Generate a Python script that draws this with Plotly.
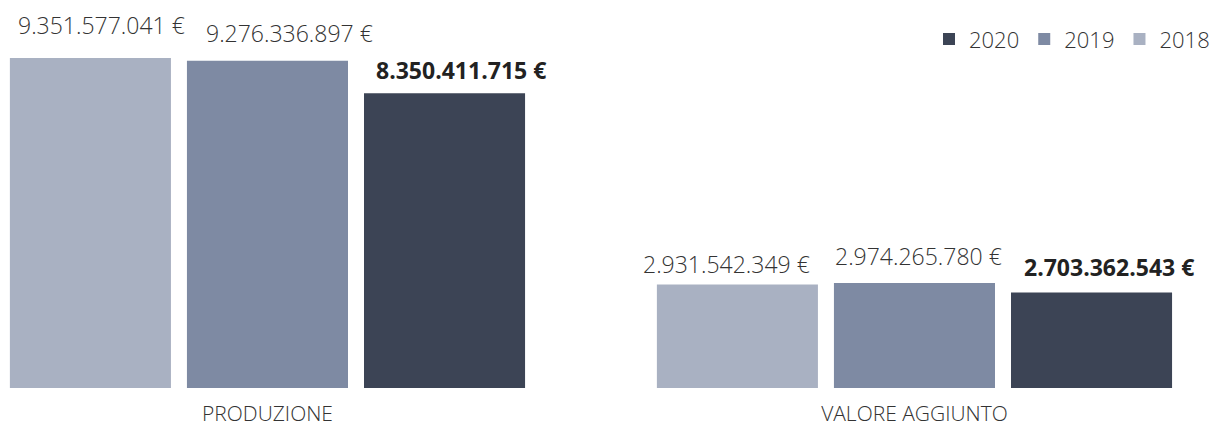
import plotly.graph_objects as go

categories = ["PRODUZIONE", "VALORE AGGIUNTO"]
years = ["2018", "2019", "2020"]
values_2018 = [9351577041, 2931542349]
values_2019 = [9276336897, 2974265780]
values_2020 = [8350411715, 2703362543]
series = [values_2018, values_2019, values_2020]

colors = ["#A9B1C2", "#7E8AA3", "#3C4455"]

def fmt(v):
    return f"{v:,}".replace(",", ".") + " €"

BARGAP = 0.179
GROUPGAP = 0.0904

fig = go.Figure()
for yr, vals, col in zip(years, series, colors):
    fig.add_trace(go.Bar(name=yr, x=[0, 1], y=vals, marker_color=col,
                         marker_line_width=0))

# label offsets (style): x shift, y shift in px, per series/category
xshifts = [[11, -11], [22, 4], [16, 17]]
yshifts = [[33, 21], [28, 27], [23, 26]]
FONT = "Open Sans"
for i, (yr, vals) in enumerate(zip(years, series)):
    bold = (yr == "2020")
    for j in range(len(categories)):
        off = (i - 1) * (1 - BARGAP) / 3
        fig.add_annotation(
            x=j + off, y=vals[j], xref="x", yref="y",
            text=f"<b>{fmt(vals[j])}</b>" if bold else fmt(vals[j]),
            showarrow=False, yanchor="middle", xanchor="center",
            xshift=xshifts[i][j], yshift=yshifts[i][j],
            font=dict(family=FONT, size=23,
                      color="#222222" if bold else "#333333",
                      weight=700 if bold else 300),
        )

fig.update_layout(
    width=1215, height=428,
    margin=dict(l=0, r=0, t=0, b=40, autoexpand=False),
    paper_bgcolor="white", plot_bgcolor="white",
    barmode="group", bargap=BARGAP, bargroupgap=GROUPGAP,
    showlegend=True,
    legend=dict(orientation="h", traceorder="reversed", x=1.0, xanchor="right",
                y=0.899, yanchor="middle",
                font=dict(family=FONT, size=22, color="#333333", weight=300),
                itemwidth=30, bgcolor="rgba(0,0,0,0)"),
    font=dict(family=FONT, color="#333333"),
)
fig.update_xaxes(type="linear", range=[-0.4134, 1.4645], tickmode="array",
                 tickvals=[0, 1], ticktext=categories, showgrid=False, zeroline=False,
                 showline=False, ticks="", ticklabelstandoff=11, automargin=False,
                 tickfont=dict(family=FONT, size=21, color="#333333", weight=300))
fig.update_yaxes(range=[0, 1.0995e10], visible=False, automargin=False)

fig.write_html("out.html", config={"displayModeBar": False},
               post_script="document.body.style.margin='0';")
